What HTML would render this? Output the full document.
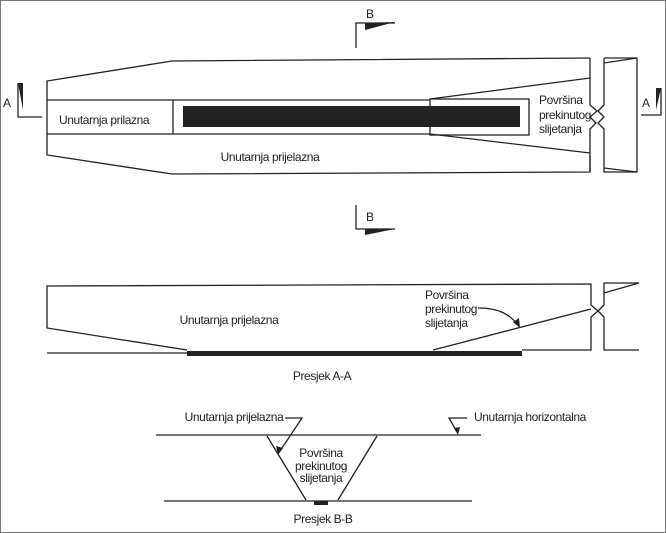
<!DOCTYPE html>
<html><head><meta charset="utf-8"><style>
html,body{margin:0;padding:0;background:#fff}
svg{display:block}
text{font-family:"Liberation Sans Narrow","Liberation Sans",sans-serif;font-size:12px;letter-spacing:-0.4px;fill:#222}
</style></head><body>
<svg width="666" height="533" viewBox="0 0 666 533" xmlns="http://www.w3.org/2000/svg">
<rect x="0.5" y="0.5" width="665" height="532" fill="#fff" stroke="#777"/>
<g stroke="#222" stroke-width="1.3" fill="none">
<polyline points="590,58 172,61 47,81 47,155 172,174 590,172 590,155"/>
<polyline points="590,58 590,105 597,111 590,117 596,123 590,129 590,172"/>
<line x1="47" y1="100" x2="430" y2="100"/>
<line x1="47" y1="134" x2="430" y2="134"/>
<line x1="173" y1="100" x2="173" y2="134"/>
<rect x="430" y="99" width="99" height="36"/>
<line x1="430" y1="99" x2="590" y2="78"/>
<line x1="430" y1="134" x2="590" y2="153"/>
<polyline points="604,58 637,58 637,172 604,172 604,129 598,123 604,117 598,111 604,105 604,58"/>
<line x1="604" y1="63" x2="637" y2="58"/>
<line x1="604" y1="168" x2="637" y2="172"/>
<polyline points="18,83 18,117 42,117"/>
<polyline points="661,88 661,115 641,115"/>
<polyline points="356,48 356,23 395,23"/>
<polyline points="356,205 356,229 395,229"/>
<polyline points="187,350 47,328 47,286 591,284 591,305 598,311 591,317 591,350 522,350"/>
<line x1="47" y1="353" x2="187" y2="353"/>
<line x1="433" y1="350" x2="591" y2="309"/>
<polyline points="639,283 604,283 604,305 598,311 604,317 604,350 639,350"/>
<line x1="604" y1="293" x2="639" y2="283"/>
<path d="M478,308 C500,308 510,315 518,325"/>
<line x1="156" y1="435" x2="481" y2="435"/>
<line x1="164" y1="501" x2="472" y2="501"/>
<line x1="267" y1="436" x2="306" y2="500"/>
<line x1="377" y1="436" x2="338" y2="500"/>
<polyline points="285,418 302,418 280,451"/>
<polyline points="467,418 449,418 457,432"/>
</g>
<g fill="#222">
<rect x="183" y="106" width="337" height="21"/>
<polygon points="18,83 23,83 23,110"/>
<polygon points="661,88 656,88 656,110"/>
<polygon points="365,23 395,22 365,30"/>
<polygon points="365,229 395,229 365,235"/>
<rect x="187" y="351" width="335" height="5"/>
<rect x="314" y="501" width="14" height="4"/>
<polygon points="520,328 513,322 519,318"/>
<polygon points="278,455 276,446 283,448"/>
<polygon points="458,435 454,428 460,427"/>
</g>
<text x="59" y="124">Unutarnja prilazna</text>
<text x="270" y="161" text-anchor="middle">Unutarnja prijelazna</text>
<text x="539" y="104">Površina</text>
<text x="539" y="119">prekinutog</text>
<text x="539" y="133">slijetanja</text>
<text x="3" y="107">A</text>
<text x="642" y="107">A</text>
<text x="366" y="18">B</text>
<text x="366" y="221">B</text>
<text x="229" y="324" text-anchor="middle">Unutarnja prijelazna</text>
<text x="425" y="299">Površina</text>
<text x="425" y="313">prekinutog</text>
<text x="425" y="327">slijetanja</text>
<text x="322" y="380" text-anchor="middle">Presjek  A-A</text>
<text x="234" y="421" text-anchor="middle">Unutarnja prijelazna</text>
<text x="474" y="421">Unutarnja horizontalna</text>
<text x="321" y="457" text-anchor="middle">Površina</text>
<text x="321" y="470" text-anchor="middle">prekinutog</text>
<text x="321" y="482" text-anchor="middle">slijetanja</text>
<text x="323" y="523" text-anchor="middle">Presjek  B-B</text>
</svg>
</body></html>
